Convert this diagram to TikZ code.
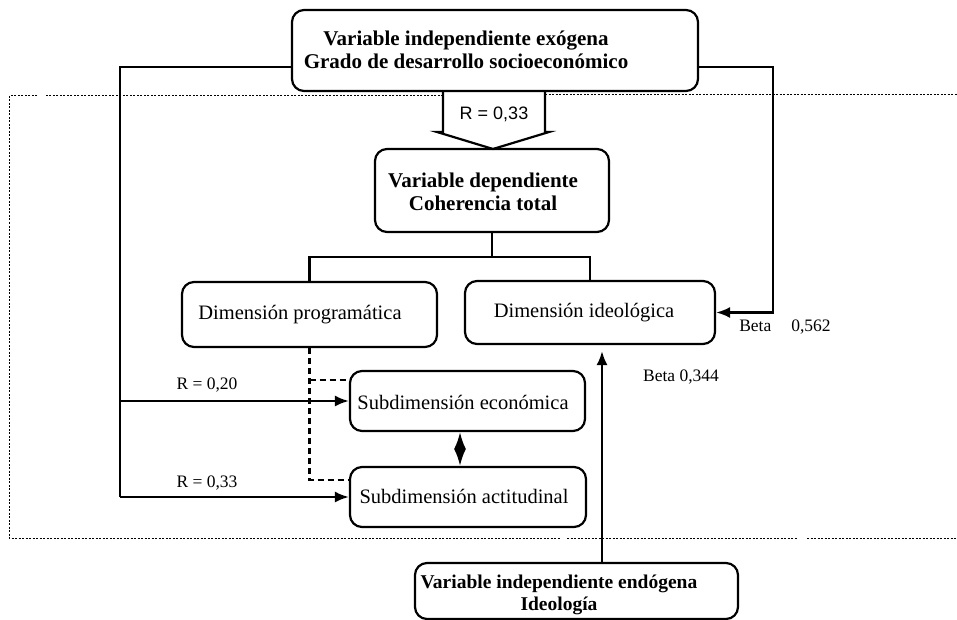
\documentclass[tikz,border=0pt]{standalone}
\usepackage{fontspec}
\setmainfont{Liberation Serif}
\newfontfamily\arialfont{Liberation Sans}
\usetikzlibrary{arrows.meta}
\begin{document}
\begin{tikzpicture}[x=1pt,y=-1pt,
  box/.style={draw, line width=2.2pt, rounded corners=12pt, inner sep=0pt},
  conn/.style={line width=2.2pt},
  arr/.style={conn, -{Latex[length=14pt,width=11pt]}},
  dsh/.style={line width=2.2pt, dash pattern=on 6pt off 4pt},
  dotl/.style={line width=1pt, dash pattern=on 2pt off 1.5pt},
  bt/.style={font=\fontsize{21}{23.5}\selectfont\bfseries, align=center, inner sep=0pt},
  rt/.style={font=\fontsize{20.5}{24}\selectfont, inner sep=0pt},
  lab/.style={font=\fontsize{17.5}{20}\selectfont, inner sep=0pt}]
\useasboundingbox (0,0) rectangle (957,620);

% dotted frame
\draw[dotl] (443,96) -- (45,96);
\draw[dotl] (37,96) -- (9,96) -- (9,538) -- (560,538);
\draw[dotl] (567,538) -- (797,538);
\draw[dotl] (807,538) -- (957,538);
\draw[dotl] (545,95) -- (957,95);

% boxes
\node[box, minimum width=406pt, minimum height=81pt] (top) at (495,50.5) {};
\node[bt] (toptxt) at (466,50) {Variable independiente exógena\\Grado de desarrollo socioeconómico};

\node[box, minimum width=234pt, minimum height=83pt] (dep) at (492,190.5) {};
\node[bt] (deptxt) at (483,192) {Variable dependiente\\Coherencia total};

\node[box, minimum width=255pt, minimum height=65pt] (prog) at (309.5,314.5) {};
\node[rt] (progtxt) at (300,315) {Dimensión programática};

\node[box, minimum width=250pt, minimum height=63pt] (ideo) at (590,312.5) {};
\node[rt] (ideotxt) at (584,313) {Dimensión ideológica};

\node[box, minimum width=235pt, minimum height=60pt] (eco) at (467.5,401) {};
\node[rt] (ecotxt) at (463,402) {Subdimensión económica};

\node[box, minimum width=236pt, minimum height=60pt] (act) at (468,497) {};
\node[rt] (acttxt) at (464,496) {Subdimensión actitudinal};

\node[box, minimum width=323pt, minimum height=56pt] (endo) at (576.5,591) {};
\node[bt, font=\fontsize{19.5}{22}\selectfont\bfseries] (endotxt) at (559,595) {Variable independiente endógena\\Ideología};

% block arrow R = 0,33
\draw[conn, line join=miter] (443,91) -- (443,132) -- (437,132) -- (493,149) -- (549,132) -- (545,132) -- (545,91);
\node[font=\arialfont\fontsize{18}{20}\selectfont, inner sep=0pt] (rblk) at (494,114) {R = 0,33};

% left connectors
\coordinate (L) at (120,67);
\draw[conn] (top.west |- L) -- (L) -- (L |- act.west);
\draw[arr] (L |- eco.west) -- (eco.west);
\draw[arr] (L |- act.west) -- (act.west);
\node[lab] (r20) at (207,385) {R = 0,20};
\node[lab] (r33) at (207,483) {R = 0,33};

% right connector
\coordinate (R) at (773,67);
\draw[arr] (top.east |- R) -- (R) -- (R |- ideo.east) -- (ideo.east);
\node[lab] (b562) at (785,327) {Beta\hspace{20pt}0,562};

% tree
\draw[conn] (dep.south) -- ++(0,24) coordinate (J);
\draw[conn] (prog.north) |- (J) -| (ideo.north);

% dashed
\coordinate (d1) at ([yshift=21pt]eco.west);
\coordinate (d2) at ([yshift=17pt]act.west);
\draw[dsh] (prog.south) -- (prog.south |- d2) -- (d2);
\draw[dsh] (prog.south |- d1) -- (d1);

% double arrow
\coordinate (DA) at (460,0);
\draw[conn, {Latex[length=17pt,width=12pt]}-{Latex[length=17pt,width=12pt]}] (eco.south -| DA) -- (act.north -| DA);

% endogenous arrow
\coordinate (EA) at (602,0);
\draw[arr] (endo.north -| EA) -- ([yshift=-6pt]ideo.south -| EA);
\node[lab] (b344) at (681,377) {Beta 0,344};
\end{tikzpicture}
\end{document}
